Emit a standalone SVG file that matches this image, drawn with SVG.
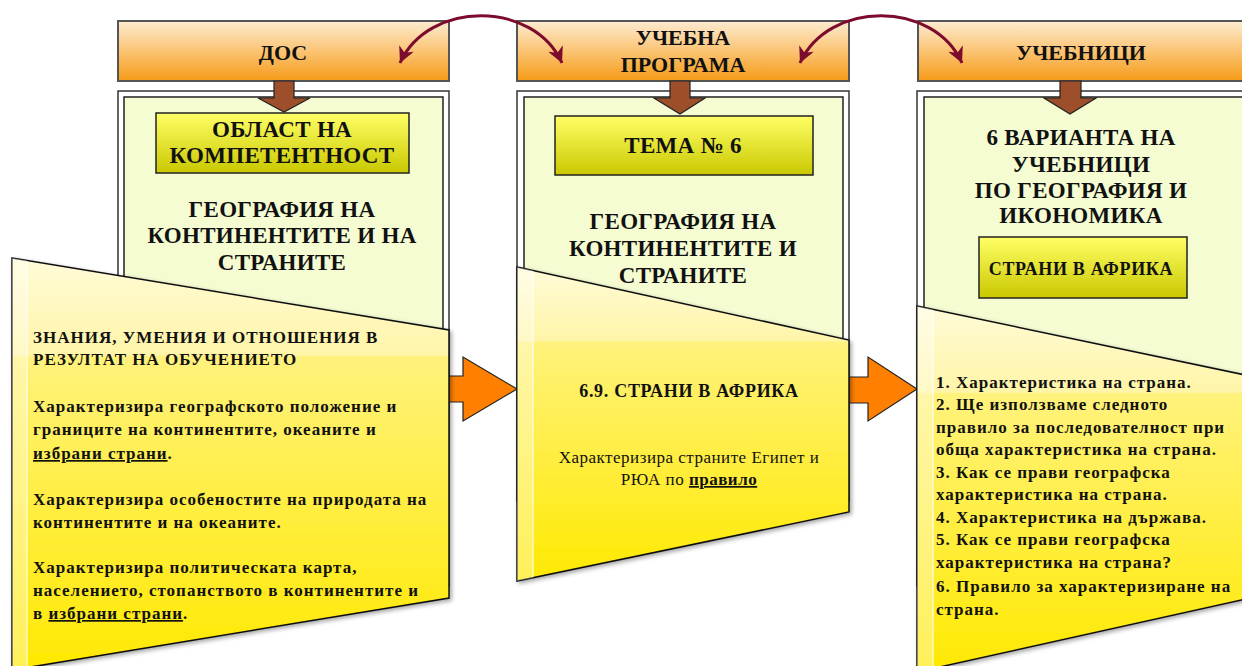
<svg xmlns="http://www.w3.org/2000/svg" width="1242" height="666" viewBox="0 0 1242 666">
<style>
.hdr{stroke:#555;stroke-width:2;fill:url(#gHdr)}
.frO{fill:#fff;stroke:#333;stroke-width:1.5}
.frI{fill:#f5fcd2;stroke:#222;stroke-width:1.5}
.box{fill:url(#gBox);stroke:#222;stroke-width:1.5}
.brn{fill:#9c4f2a;stroke:#222;stroke-width:1.2}
.org{fill:#ff8000;stroke:#222;stroke-width:1.2}
.trap{fill:url(#gTrap);stroke:#111;stroke-width:1.5;filter:url(#sh)}
.strip{fill:#fff;opacity:0.35}
.stripL{stroke:#fff;stroke-width:1.2;opacity:0.85}
.t{font-family:"Liberation Serif","Times New Roman",serif;font-weight:bold;fill:#111}
.h{font-size:22px;text-anchor:middle}
.ti{font-size:23px;text-anchor:middle;letter-spacing:0.3px}
.s{font-size:17px;letter-spacing:1px}
.m{font-size:18px;letter-spacing:0.7px;text-anchor:middle}
.r{font-weight:normal;font-size:17px;letter-spacing:0.5px;text-anchor:middle}
.u{text-decoration:underline}
.arc{fill:none;stroke:#7b0c2e;stroke-width:3}
</style>
<defs>
<linearGradient id="gHdr" x1="0" y1="0" x2="0" y2="1">
<stop offset="0" stop-color="#fdebd0"/>
<stop offset="0.5" stop-color="#fbc474"/>
<stop offset="1" stop-color="#f59a16"/>
</linearGradient>
<linearGradient id="gBox" x1="0" y1="0" x2="0" y2="1">
<stop offset="0" stop-color="#ffff66"/>
<stop offset="1" stop-color="#c9c800"/>
</linearGradient>
<linearGradient id="gTrap" x1="0" y1="0" x2="0" y2="1">
<stop offset="0" stop-color="#fffbd8"/>
<stop offset="0.235" stop-color="#fff5a8"/>
<stop offset="0.24" stop-color="#fff27c"/>
<stop offset="1" stop-color="#ffe900"/>
</linearGradient>
<filter id="sh" x="-5%" y="-5%" width="115%" height="115%">
<feDropShadow dx="2" dy="2" stdDeviation="2" flood-color="#000" flood-opacity="0.35"/>
</filter>
<marker id="ah" viewBox="0 0 10 10" refX="10" refY="5" markerWidth="16" markerHeight="16" markerUnits="userSpaceOnUse" orient="auto-start-reverse">
<path d="M0,0 L10,5 L0,10 L3,5 z" fill="#7b0c2e"/>
</marker>
</defs>

<g id="col1">
<rect class="hdr" x="118" y="21" width="331" height="60"/>
<text class="t h" x="283" y="60">ДОС</text>
<rect class="frO" x="118" y="91" width="331" height="495"/>
<rect class="frI" x="124" y="97" width="319" height="483"/>
<polygon class="brn" points="274,81 294,81 294,98 310,98 284,112 258,98 274,98"/>
<rect class="box" x="156" y="113" width="253" height="60"/>
<text class="t ti" x="282" y="137">ОБЛАСТ НА</text>
<text class="t ti" x="282" y="163">КОМПЕТЕНТНОСТ</text>
<text class="t ti" x="282" y="217">ГЕОГРАФИЯ НА</text>
<text class="t ti" x="282" y="243">КОНТИНЕНТИТЕ И НА</text>
<text class="t ti" x="282" y="270">СТРАНИТЕ</text>
</g>

<g id="col2">
<rect class="hdr" x="517" y="21" width="332" height="60"/>
<text class="t h" x="683" y="45">УЧЕБНА</text>
<text class="t h" x="683" y="72">ПРОГРАМА</text>
<rect class="frO" x="517" y="91" width="332" height="410"/>
<rect class="frI" x="524" y="97" width="319" height="398"/>
<polygon class="brn" points="670,81 690,81 690,98 705,98 680,114 654,98 670,98"/>
<rect class="box" x="555" y="116" width="258" height="59"/>
<text class="t ti" x="683" y="153">ТЕМА № 6</text>
<text class="t ti" x="683" y="229">ГЕОГРАФИЯ НА</text>
<text class="t ti" x="683" y="256">КОНТИНЕНТИТЕ И</text>
<text class="t ti" x="683" y="283">СТРАНИТЕ</text>
</g>

<g id="col3">
<rect class="hdr" x="918" y="21" width="340" height="60"/>
<text class="t h" x="1081" y="60">УЧЕБНИЦИ</text>
<rect class="frO" x="917" y="91" width="340" height="495"/>
<rect class="frI" x="924" y="97" width="330" height="483"/>
<polygon class="brn" points="1060,81 1081,81 1081,98 1096,98 1070,114 1044,98 1060,98"/>
<text class="t ti" x="1081" y="145">6 ВАРИАНТА НА</text>
<text class="t ti" x="1081" y="172">УЧЕБНИЦИ</text>
<text class="t ti" x="1081" y="198">ПО ГЕОГРАФИЯ И</text>
<text class="t ti" x="1081" y="223">ИКОНОМИКА</text>
<rect class="box" x="979" y="237" width="208" height="61"/>
<text class="t m" x="1081" y="275">СТРАНИ В АФРИКА</text>
</g>

<g id="connectors">
<path class="arc" d="M400,63 C428,0 534,0 562,63" marker-start="url(#ah)" marker-end="url(#ah)"/>
<path class="arc" d="M800,63 C828,0 934,0 962,63" marker-start="url(#ah)" marker-end="url(#ah)"/>
<polygon class="org" points="449,376 463,376 463,357 517,389 463,421 463,402 449,402"/>
<polygon class="org" points="849,377 868,377 868,357 917,389 868,421 868,403 849,403"/>
</g>

<g id="outcomes1">
<polygon class="trap" points="12,258 449,330 449,598 12,670"/>
<polygon class="strip" points="12,258 27,260.5 27,668 12,670"/>
<line class="stripL" x1="27" y1="261" x2="27" y2="668"/>
<text class="t s" x="33">
<tspan x="33" y="343">ЗНАНИЯ, УМЕНИЯ И ОТНОШЕНИЯ В</tspan>
<tspan x="33" y="365">РЕЗУЛТАТ НА ОБУЧЕНИЕТО</tspan>
<tspan x="33" y="412">Характеризира географското положение и</tspan>
<tspan x="33" y="435">границите на континентите, океаните и</tspan>
<tspan x="33" y="459"><tspan class="u">избрани страни</tspan>.</tspan>
<tspan x="33" y="505">Характеризира особеностите на природата на</tspan>
<tspan x="33" y="528">континентите и на океаните.</tspan>
<tspan x="33" y="573">Характеризира политическата карта,</tspan>
<tspan x="33" y="596">населението, стопанството в континентите и</tspan>
<tspan x="33" y="619">в <tspan class="u">избрани страни</tspan>.</tspan>
</text>
</g>

<g id="outcomes2">
<polygon class="trap" points="517,267 849,340 849,512 517,581"/>
<polygon class="strip" points="517,267 533,270.5 533,577.7 517,581"/>
<line class="stripL" x1="533" y1="271" x2="533" y2="577"/>
<text class="t m" x="689" y="397">6.9. СТРАНИ В АФРИКА</text>
<text class="t r" x="689" y="463">Характеризира страните Египет и</text>
<text class="t r" x="689" y="485">РЮА по <tspan class="u" style="font-weight:bold">правило</tspan></text>
</g>

<g id="outcomes3">
<polygon class="trap" points="917,306 1250,376 1250,598 917,672"/>
<polygon class="strip" points="917,306 933,309.4 933,668.5 917,672"/>
<line class="stripL" x1="933" y1="310" x2="933" y2="668"/>
<text class="t s">
<tspan x="936" y="388">1. Характеристика на страна.</tspan>
<tspan x="936" y="410">2. Ще използваме следното</tspan>
<tspan x="936" y="433">правило за последователност при</tspan>
<tspan x="936" y="455">обща характеристика на страна.</tspan>
<tspan x="936" y="478">3. Как се прави географска</tspan>
<tspan x="936" y="500">характеристика на страна.</tspan>
<tspan x="936" y="523">4. Характеристика на държава.</tspan>
<tspan x="936" y="545">5. Как се прави географска</tspan>
<tspan x="936" y="568">характеристика на страна?</tspan>
<tspan x="936" y="592">6. Правило за характеризиране на</tspan>
<tspan x="936" y="615">страна.</tspan>
</text>
</g>
</svg>
